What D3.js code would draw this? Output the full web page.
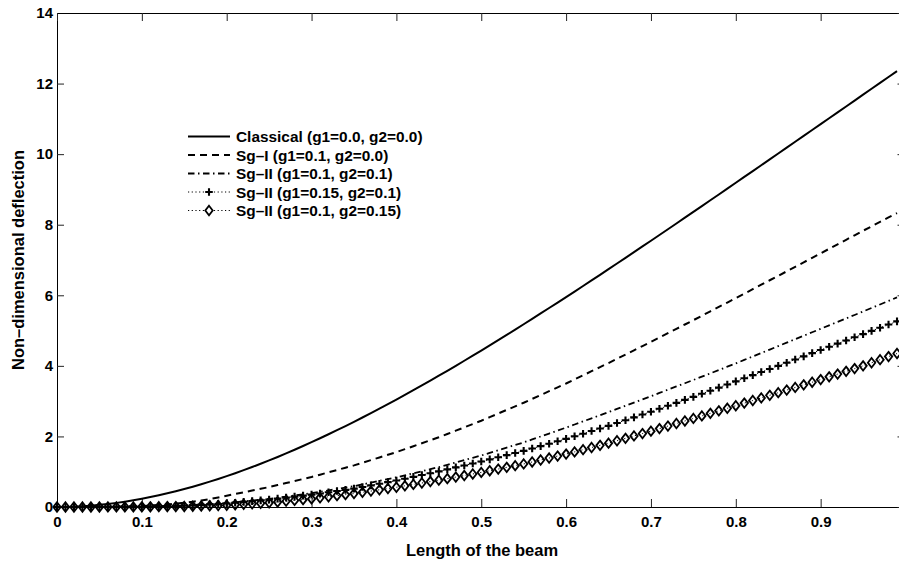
<!DOCTYPE html>
<html><head><meta charset="utf-8">
<script src="https://cdn.jsdelivr.net/npm/d3@7"></script>
<style>
html,body{margin:0;padding:0;background:#fff;}
svg{display:block;}
text{font-family:"Liberation Sans",Arial,Helvetica,sans-serif;font-weight:bold;fill:#000;}
</style></head><body>
<svg id="chart" width="899" height="566"></svg>
<script>
// ---------- DATA ----------
const xValues = [
0,0.01,0.02,0.03,0.04,0.05,0.06,0.07,0.08,0.09,
0.10,0.11,0.12,0.13,0.14,0.15,0.16,0.17,0.18,0.19,
0.20,0.21,0.22,0.23,0.24,0.25,0.26,0.27,0.28,0.29,
0.30,0.31,0.32,0.33,0.34,0.35,0.36,0.37,0.38,0.39,
0.40,0.41,0.42,0.43,0.44,0.45,0.46,0.47,0.48,0.49,
0.50,0.51,0.52,0.53,0.54,0.55,0.56,0.57,0.58,0.59,
0.60,0.61,0.62,0.63,0.64,0.65,0.66,0.67,0.68,0.69,
0.70,0.71,0.72,0.73,0.74,0.75,0.76,0.77,0.78,0.79,
0.80,0.81,0.82,0.83,0.84,0.85,0.86,0.87,0.88,0.89,
0.90,0.91,0.92,0.93,0.94,0.95,0.96,0.97,0.98,0.99];

const classical = [
0,0.003,0.010,0.022,0.039,0.061,0.087,0.117,0.152,0.191,
0.234,0.281,0.333,0.388,0.447,0.509,0.575,0.645,0.718,0.795,
0.875,0.958,1.044,1.133,1.225,1.321,1.418,1.519,1.622,1.728,
1.837,1.948,2.061,2.176,2.294,2.414,2.536,2.661,2.787,2.915,
3.045,3.177,3.310,3.445,3.582,3.721,3.860,4.002,4.145,4.289,
4.434,4.581,4.729,4.878,5.028,5.179,5.331,5.485,5.639,5.794,
5.950,6.106,6.264,6.422,6.580,6.740,6.900,7.061,7.222,7.384,
7.546,7.708,7.871,8.035,8.199,8.363,8.527,8.692,8.857,9.022,
9.188,9.354,9.520,9.686,9.852,10.018,10.184,10.351,10.518,10.684,
10.851,11.018,11.185,11.351,11.518,11.685,11.852,12.019,12.186,12.353];

const sgI = [
0,0,0.001,0.002,0.003,0.005,0.008,0.012,0.017,0.023,
0.03,0.042,0.056,0.072,0.093,0.12,0.15,0.185,0.225,0.27,
0.32,0.369,0.418,0.467,0.516,0.565,0.622,0.679,0.736,0.793,
0.85,0.916,0.982,1.048,1.114,1.18,1.255,1.33,1.405,1.48,
1.555,1.639,1.723,1.807,1.891,1.975,2.069,2.163,2.257,2.351,
2.445,2.547,2.649,2.751,2.853,2.955,3.064,3.173,3.282,3.391,
3.50,3.616,3.732,3.848,3.964,4.08,4.20,4.32,4.44,4.56,
4.68,4.803,4.926,5.049,5.172,5.295,5.42,5.545,5.67,5.795,
5.92,6.046,6.173,6.299,6.426,6.552,6.679,6.807,6.934,7.062,
7.189,7.317,7.445,7.573,7.701,7.829,7.954,8.079,8.205,8.33];

const sgII_a = [
0,0,0,0,0,0,0.002,0.004,0.006,0.008,
0.01,0.016,0.022,0.028,0.034,0.04,0.054,0.068,0.082,0.096,
0.11,0.134,0.158,0.182,0.206,0.23,0.262,0.294,0.326,0.358,
0.39,0.43,0.47,0.51,0.55,0.59,0.64,0.69,0.74,0.79,
0.84,0.898,0.956,1.014,1.072,1.13,1.196,1.262,1.328,1.394,
1.46,1.534,1.608,1.682,1.756,1.83,1.914,1.998,2.082,2.166,
2.25,2.338,2.426,2.514,2.602,2.69,2.78,2.87,2.96,3.05,
3.14,3.232,3.324,3.416,3.508,3.60,3.694,3.788,3.882,3.976,
4.07,4.168,4.266,4.364,4.462,4.56,4.658,4.756,4.854,4.952,
5.05,5.148,5.246,5.344,5.442,5.54,5.64,5.74,5.84,5.94];

const sgII_b = [
0,0,0,0,0,0,0.002,0.003,0.005,0.006,
0.008,0.013,0.019,0.024,0.03,0.035,0.048,0.061,0.074,0.087,
0.10,0.122,0.144,0.166,0.188,0.21,0.238,0.266,0.294,0.322,
0.35,0.384,0.418,0.452,0.486,0.52,0.566,0.612,0.658,0.704,
0.75,0.802,0.854,0.906,0.958,1.01,1.066,1.122,1.178,1.234,
1.29,1.35,1.41,1.47,1.53,1.59,1.658,1.726,1.794,1.862,
1.93,2.004,2.078,2.152,2.226,2.30,2.38,2.46,2.54,2.62,
2.70,2.784,2.868,2.952,3.036,3.12,3.208,3.296,3.384,3.472,
3.56,3.648,3.736,3.824,3.912,4.00,4.09,4.18,4.27,4.36,
4.45,4.54,4.63,4.72,4.81,4.90,4.99,5.08,5.17,5.26];

const sgII_c = [
0,0,0,0,0,0,0.001,0.002,0.002,0.003,
0.004,0.006,0.008,0.011,0.013,0.015,0.022,0.029,0.036,0.043,
0.05,0.064,0.078,0.092,0.106,0.12,0.142,0.164,0.186,0.208,
0.23,0.26,0.29,0.32,0.35,0.38,0.416,0.452,0.488,0.524,
0.56,0.60,0.64,0.68,0.72,0.76,0.804,0.848,0.892,0.936,
0.98,1.028,1.076,1.124,1.172,1.22,1.276,1.332,1.388,1.444,
1.50,1.562,1.624,1.686,1.748,1.81,1.878,1.946,2.014,2.082,
2.15,2.222,2.294,2.366,2.438,2.51,2.582,2.654,2.726,2.798,
2.87,2.944,3.018,3.092,3.166,3.24,3.314,3.388,3.462,3.536,
3.61,3.688,3.766,3.844,3.922,4.00,4.088,4.175,4.263,4.35];

const seriesLabels = [
"Classical (g1=0.0, g2=0.0)",
"Sg\u2013I (g1=0.1, g2=0.0)",
"Sg\u2013II (g1=0.1, g2=0.1)",
"Sg\u2013II (g1=0.15, g2=0.1)",
"Sg\u2013II (g1=0.1, g2=0.15)"];

const xTickValues = [0,0.1,0.2,0.3,0.4,0.5,0.6,0.7,0.8,0.9];
const xTickLabels = ["0","0.1","0.2","0.3","0.4","0.5","0.6","0.7","0.8","0.9"];
const yTickValues = [0,2,4,6,8,10,12,14];
const yTickLabels = ["0","2","4","6","8","10","12","14"];
const xAxisTitle = "Length of the beam";
const yAxisTitle = "Non\u2013dimensional deflection";

// ---------- STYLES ----------
const styles = [
  {width:2,   dash:null,            marker:null},
  {width:2,   dash:"7,5",           marker:null},
  {width:1.8, dash:"6.5,3.5,1.5,3.5", marker:null},
  {width:1,   dash:"1.2,2.5",       marker:"plus"},
  {width:1,   dash:"1.2,2.5",       marker:"diamond"}
];

// ---------- CHART ----------
const svg = d3.select("#chart");
const x = d3.scaleLinear().domain([0,1]).range([57,905.5]);
const y = d3.scaleLinear().domain([0,14]).range([507,13]);
const FONT = '"Liberation Sans",Arial,Helvetica,sans-serif';

const seriesValues = [classical, sgI, sgII_a, sgII_b, sgII_c];
const seriesData = seriesValues.map(vals => vals.map((v,i)=>[xValues[i], v]));

// axes
const gx = svg.append("g").attr("transform","translate(0,507)")
  .call(d3.axisBottom(x).tickValues(xTickValues).tickFormat((d,i)=>xTickLabels[i])
        .tickSizeInner(-8).tickSizeOuter(0).tickPadding(9));
const gy = svg.append("g").attr("transform","translate(57,0)")
  .call(d3.axisLeft(y).tickValues(yTickValues).tickFormat((d,i)=>yTickLabels[i])
        .tickSizeInner(-7).tickSizeOuter(0).tickPadding(4));
const gt = svg.append("g").attr("transform","translate(0,13)")
  .call(d3.axisTop(x).tickValues(xTickValues).tickFormat("").tickSizeInner(-8).tickSizeOuter(0));
const gr = svg.append("g").attr("transform","translate(905.5,0)")
  .call(d3.axisRight(y).tickValues(yTickValues).tickFormat("").tickSizeInner(-8).tickSizeOuter(0));
[gx,gy,gt,gr].forEach(g=>{
  g.attr("font-family",FONT).attr("font-size",15).attr("font-weight","bold");
  g.selectAll("path.domain").attr("stroke","#000").attr("stroke-width",1);
  g.selectAll(".tick line").attr("stroke","#222").attr("stroke-width",1);
  g.selectAll(".tick text").attr("fill","#000");
});

// axis titles
svg.append("text").attr("x",482).attr("y",556).attr("text-anchor","middle")
  .attr("font-size",16.5).text(xAxisTitle);
svg.append("text").attr("transform","translate(24,260) rotate(-90)")
  .attr("text-anchor","middle").attr("font-size",16.5).text(yAxisTitle);

// lines
const line = d3.line().x(d=>x(d[0])).y(d=>y(d[1]));
const diamondPath = "M0,-4.7L3.7,0L0,4.7L-3.7,0Z";
const plusPath = "M-3.8,0H3.8M0,-3.8V3.8";

seriesData.forEach((data,k)=>{
  const st = styles[k];
  svg.append("path").datum(data).attr("d",line)
    .attr("fill","none").attr("stroke","#000")
    .attr("stroke-width",st.width)
    .attr("stroke-dasharray",st.dash)
    .attr("stroke-linejoin","round");
  if (st.marker) {
    svg.append("g").selectAll("path").data(data).join("path")
      .attr("transform",d=>`translate(${x(d[0])},${y(d[1])})`)
      .attr("d", st.marker==="plus" ? plusPath : diamondPath)
      .attr("fill","none").attr("stroke","#000")
      .attr("stroke-width", st.marker==="plus" ? 2.1 : 1.8);
  }
});

// legend
const lg = svg.append("g");
seriesLabels.forEach((lab,k)=>{
  const st = styles[k];
  const ry = 136.5 + k*18.5;
  lg.append("line").attr("x1",188).attr("x2",230).attr("y1",ry).attr("y2",ry)
    .attr("stroke","#000").attr("stroke-width",st.width).attr("stroke-dasharray",st.dash);
  if (st.marker) {
    lg.append("path").attr("transform",`translate(209,${ry})`)
      .attr("d", st.marker==="plus" ? plusPath : diamondPath)
      .attr("fill","#fff").attr("stroke","#000")
      .attr("stroke-width", st.marker==="plus" ? 2.1 : 1.8);
  }
  lg.append("text").attr("x",236).attr("y",ry+5.5).attr("font-size",15.4).text(lab);
});
</script>
</body></html>
